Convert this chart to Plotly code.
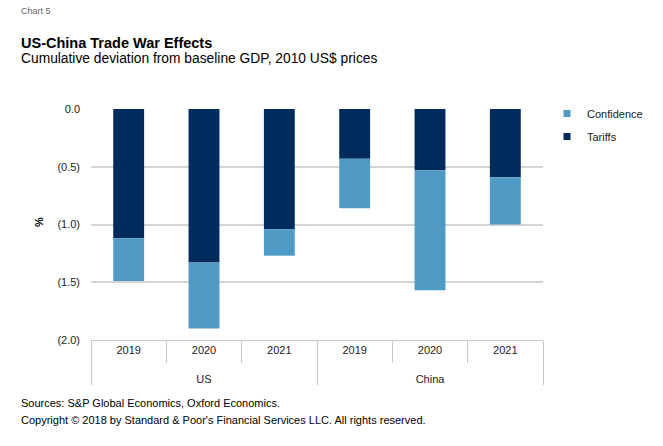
import plotly.graph_objects as go

regions = ["US", "US", "US", "China", "China", "China"]
years = ["2019", "2020", "2021", "2019", "2020", "2021"]
tariffs = [-1.12, -1.33, -1.04, -0.43, -0.53, -0.59]
confidence = [-0.37, -0.57, -0.23, -0.43, -1.04, -0.41]
y_ticks = [0, -0.5, -1.0, -1.5, -2.0]
y_ticklabels = ["0.0", "(0.5)", "(1.0)", "(1.5)", "(2.0)"]

FONT = "Liberation Sans, Arial, sans-serif"
C_TAR = "#002B5C"
C_CONF = "#4F9AC4"

W, H = 663, 446
ML, MR, MT, MB = 91, 120, 109, 106
pw, ph = W - ML - MR, H - MT - MB
def px(x):
    return (x - ML) / pw
def py(y):
    return (H - MB - y) / ph

# group labels pushed down one line so the two label rows sit apart
region_labels = ["<br>" + r for r in regions]

fig = go.Figure()
fig.add_trace(go.Bar(x=[region_labels, years], y=tariffs, name="Tariffs", showlegend=False,
                     marker=dict(color=C_TAR, line=dict(width=0))))
fig.add_trace(go.Bar(x=[region_labels, years], y=confidence, name="Confidence", showlegend=False,
                     marker=dict(color=C_CONF, line=dict(width=0))))
# legend entries
fig.add_trace(go.Scatter(x=[None], y=[None], mode="markers", name="Confidence",
                         legendgroup="c", marker=dict(symbol="square", size=7, color=C_CONF)))
fig.add_trace(go.Scatter(x=[None], y=[None], mode="markers", name="Tariffs",
                         legendgroup="t", marker=dict(symbol="square", size=7, color=C_TAR)))

fig.update_layout(
    barmode="relative",
    bargap=0.59,
    width=W, height=H,
    margin=dict(l=ML, r=MR, t=MT, b=MB, autoexpand=False),
    paper_bgcolor="white", plot_bgcolor="white",
    font=dict(family=FONT, size=11, color="#222"),
    showlegend=True,
    legend=dict(x=px(547), y=py(99), xanchor="left", yanchor="top",
                traceorder="grouped", font=dict(size=11, color="#222"),
                itemwidth=30, tracegroupgap=4, bgcolor="rgba(0,0,0,0)"),
)

texts = [
    ("Chart 5", 19, 11, 9, "#666"),
    ("<b>US-China Trade War Effects</b>", 19, 43, 14.5, "#000"),
    ("Cumulative deviation from baseline GDP, 2010 US$ prices", 19, 58, 13.8, "#000"),
    ("Sources: S&P Global Economics, Oxford Economics.", 19, 403, 11, "#000"),
    ("Copyright © 2018 by Standard & Poor's Financial Services LLC. All rights reserved.", 19, 420, 11, "#000"),
]
for t, x, y, s, c in texts:
    fig.add_annotation(text=t, x=px(x), y=py(y), xref="paper", yref="paper",
                       xanchor="left", yanchor="middle", showarrow=False,
                       font=dict(size=s, color=c, family=FONT))
fig.add_annotation(text="<b>%</b>", x=px(31), y=py(222), xref="paper", yref="paper",
                   textangle=-90, showarrow=False, font=dict(size=11, color="#000", family=FONT))

fig.update_yaxes(range=[-2.0, 0.0], tickvals=y_ticks, ticktext=y_ticklabels,
                 showgrid=True, gridcolor="#d4d4d4", gridwidth=1.5, zeroline=False,
                 showline=False, ticks="", ticklabelstandoff=10, automargin=False,
                 tickfont=dict(size=11, color="#222"))
fig.update_xaxes(type="multicategory", showline=True, linecolor="#c8c8c8", linewidth=1,
                 ticks="outside", ticklen=22, tickcolor="#c8c8c8", tickson="boundaries",
                 showdividers=True, dividercolor="#c8c8c8", dividerwidth=1, automargin=False,
                 tickfont=dict(size=11, color="#222"), showgrid=False)

fig.write_html("out.html", config={"displayModeBar": False},
               post_script="document.body.style.margin='0';document.body.style.padding='0';")
